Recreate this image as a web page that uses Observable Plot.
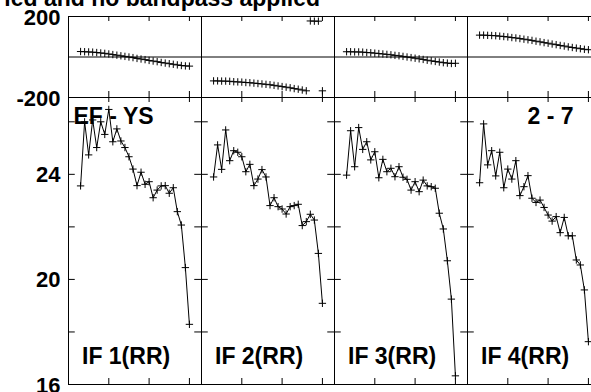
<!DOCTYPE html>
<html>
<head>
<meta charset="utf-8">
<script src="https://cdn.jsdelivr.net/npm/d3@7"></script>
<script src="https://cdn.jsdelivr.net/npm/@observablehq/plot@0.6"></script>
<style>
  html, body { margin: 0; padding: 0; overflow: hidden; background: #fff; }
  #wrap { position: relative; width: 591px; height: 392px; overflow: hidden; background: #fff;
          font-family: "Liberation Sans", Arial, sans-serif; }
  #title { position: absolute; right: 271px; top: -13.5px; font-size: 23px; line-height: 23px;
           font-weight: bold; white-space: nowrap; text-align: right; color: #000; }
  #phase, #amp { position: absolute; left: 0; }
  #phase { top: 0; }
  #amp { top: 97px; }
</style>
</head>
<body>
<div id="wrap">
  <div id="phase"></div>
  <div id="amp"></div>
  <div id="title"></div>
</div>
<script>
// ---- data ----
const titleText = "ied and no bandpass applied";
const baselineLabel = "EF - YS";
const pairLabel = "2 - 7";
const ifNames = ["IF 1", "IF 2", "IF 3", "IF 4"];
const ifLabels = ["IF 1(RR)", "IF 2(RR)", "IF 3(RR)", "IF 4(RR)"];
const channels = [3, 4, 5, 6, 7, 8, 9, 10, 11, 12, 13, 14, 15, 16, 17, 18, 19, 20, 21, 22, 23, 24, 25, 26, 27, 28, 29, 30];

const phaseIF1 = [27, 26, 25, 24, 22, 20, 18, 15, 12, 9, 6, 3, 0, -3, -7, -10, -13, -17, -20, -23, -27, -30, -33, -36, -39, -42, -44, -45];
const phaseIF2 = [-118, -118, -119, -119, -120, -122, -123, -124, -126, -127, -129, -131, -133, -135, -137, -140, -143, -146, -149, -152, -156, -159, -163, -167, 178, 177, 177, -167];
const phaseIF3 = [26, 26, 25, 25, 24, 22, 21, 19, 17, 15, 13, 11, 8, 6, 3, 0, -3, -6, -9, -12, -16, -19, -22, -25, -28, -30, -32, -31];
const phaseIF4 = [108, 108, 107, 106, 105, 103, 101, 99, 96, 94, 91, 88, 85, 82, 78, 75, 71, 68, 64, 61, 57, 54, 50, 47, 44, 41, 38, 36];

const ampIF1 = [23.56, 26.0, 24.74, 26.07, 25.02, 26.0, 25.52, 26.47, 25.24, 25.73, 25.27, 25.02, 24.67, 24.20, 23.57, 24.08, 23.62, 23.72, 23.11, 23.40, 23.56, 23.57, 23.28, 23.49, 22.58, 22.07, 20.45, 18.29];
const ampIF2 = [23.90, 25.12, 24.19, 25.69, 24.52, 24.90, 24.84, 24.67, 24.10, 24.38, 23.57, 23.82, 24.18, 23.90, 22.81, 23.11, 22.77, 22.68, 22.49, 22.77, 22.81, 22.86, 22.05, 22.20, 22.48, 22.26, 20.99, 19.09];
const ampIF3 = [23.97, 25.66, 24.29, 25.78, 24.95, 25.24, 24.55, 24.86, 23.87, 24.57, 24.10, 24.23, 23.91, 24.29, 23.89, 23.81, 23.40, 23.72, 23.34, 23.78, 23.56, 23.53, 23.47, 22.52, 21.92, 20.71, 19.25, 16.33];
const ampIF4 = [23.68, 25.92, 24.36, 24.90, 23.94, 24.84, 23.49, 24.20, 23.82, 24.52, 23.19, 23.53, 23.95, 23.09, 22.93, 23.02, 22.74, 22.45, 22.22, 22.39, 21.78, 22.36, 21.66, 21.66, 20.74, 20.55, 19.60, 17.63];

const phaseTickLabels = [-200, 200];
const ampTickLabels = [16, 20, 24];
const ampTicks = [16, 18, 20, 22, 24, 26];
const chanTicks = [10, 20, 30];

// ---- build table ----
const phases = [phaseIF1, phaseIF2, phaseIF3, phaseIF4];
const amps = [ampIF1, ampIF2, ampIF3, ampIF4];
const rows = ifNames.flatMap((name, k) =>
  channels.map((c, i) => ({ifn: name, ch: c, phase: phases[k][i], amp: amps[k][i]})));

// ---- layout ----
const W = 600, ML = 67, MR = 0;
const FW = (W - ML - MR) / ifNames.length;   // facet width in px
const TICK = 6;                                // inward tick length

const FONT = "'Liberation Sans', Arial, Helvetica, sans-serif";
const svgStyle = {fontFamily: FONT, fontSize: "22px", fontWeight: "bold", color: "#000",
                  background: "none", maxWidth: "none", overflow: "visible"};
const common = {
  width: W, marginLeft: ML, marginRight: MR,
  fx: {domain: ifNames, padding: 0, axis: null, label: null},
  x: {domain: [0, 33], axis: null},
  style: svgStyle
};
const fmt = d => String(d);

function xTicksInward(plotH) {
  return [
    Plot.tickX(chanTicks, {x: d => d, insetBottom: plotH - TICK + 1, stroke: "#000"}),
    Plot.tickX(chanTicks, {x: d => d, insetTop: plotH - TICK, stroke: "#000"})
  ];
}

document.getElementById("title").textContent = titleText;

// ---- phase panel ----
const PH_TOP = 16, PH_BOT = 8, PH_H = 105;
const phasePlot = Plot.plot({
  ...common,
  height: PH_H, marginTop: PH_TOP, marginBottom: PH_BOT,
  y: {domain: [-200, 200]},
  marks: [
    Plot.frame({stroke: "#000"}),
    Plot.ruleY([0], {stroke: "#000", strokeWidth: 1}),
    Plot.axisY(phaseTickLabels, {anchor: "left", tickSize: 0, tickPadding: 8, tickFormat: fmt, label: null, dy: 1}),
    ...xTicksInward(PH_H - PH_TOP - PH_BOT),
    Plot.dot(rows, {fx: "ifn", x: "ch", y: "phase", symbol: "plus", r: 2.5, stroke: "#000", strokeWidth: 1})
  ]
});
document.getElementById("phase").append(phasePlot);

// ---- amplitude panel ----
const AM_TOP = 0, AM_BOT = 8, AM_H = 295;
const ampPlot = Plot.plot({
  ...common,
  height: AM_H, marginTop: AM_TOP, marginBottom: AM_BOT,
  y: {domain: [16, 26.925]},
  marks: [
    Plot.frame({stroke: "#000"}),
    Plot.axisY(ampTickLabels, {anchor: "left", tickSize: 0, tickPadding: 8, tickFormat: fmt, label: null, dy: 1}),
    Plot.tickY(ampTicks, {y: d => d, insetRight: FW - TICK - 1, stroke: "#000"}),
    Plot.tickY(ampTicks, {y: d => d, insetLeft: FW - TICK - 1, stroke: "#000"}),
    ...xTicksInward(AM_H - AM_TOP - AM_BOT),
    Plot.line(rows, {fx: "ifn", x: "ch", y: "amp", stroke: "#000", strokeWidth: 1}),
    Plot.dot(rows, {fx: "ifn", x: "ch", y: "amp", symbol: "plus", r: 2.5, stroke: "#000", strokeWidth: 1}),
    Plot.text([baselineLabel], {fx: [ifNames[0]], text: d => d, frameAnchor: "top-left", lineAnchor: "middle",
      textAnchor: "start", dx: 5, dy: 19, fontSize: 23, fontWeight: "bold", fontFamily: FONT, fill: "#000"}),
    Plot.text([pairLabel], {fx: [ifNames[3]], text: d => d, frameAnchor: "top-right", lineAnchor: "middle",
      textAnchor: "end", dx: -27, dy: 19, fontSize: 23, fontWeight: "bold", fontFamily: FONT, fill: "#000"}),
    Plot.text(ifLabels, {fx: ifNames, text: d => d, frameAnchor: "bottom-left", lineAnchor: "middle",
      textAnchor: "start", dx: 13.5, dy: -28, fontSize: 23, fontWeight: "bold", fontFamily: FONT, fill: "#000"})
  ]
});
document.getElementById("amp").append(ampPlot);
</script>
</body>
</html>
